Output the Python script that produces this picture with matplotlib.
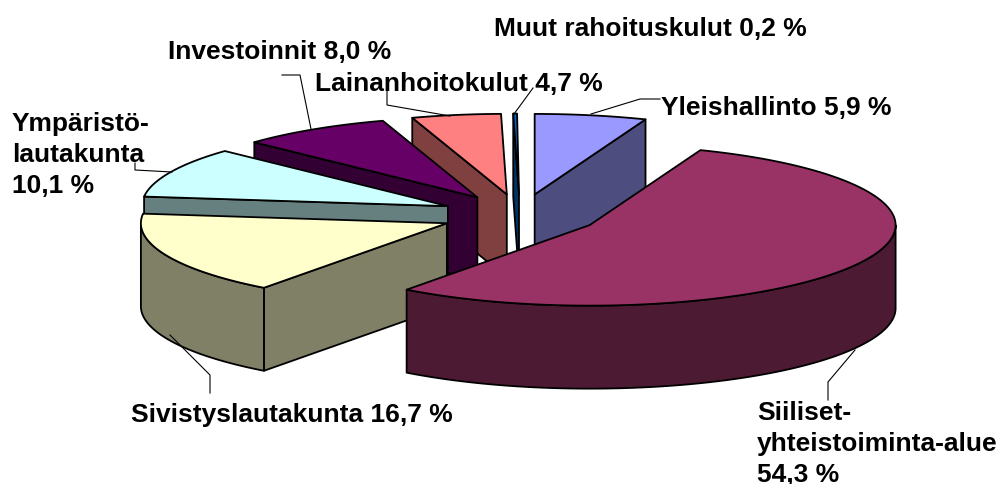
import numpy as np
import matplotlib
matplotlib.use('Agg')
import matplotlib.pyplot as plt
from matplotlib.patches import Polygon

# Data, clockwise from 12 o'clock
names = ['Yleishallinto', 'Siiliset', 'Sivistyslautakunta', 'Ympäristölautakunta',
         'Investoinnit', 'Lainanhoitokulut', 'Muut rahoituskulut']
values = [5.9, 54.3, 16.7, 10.1, 8.0, 4.7, 0.2]
top_colors = ['#9999FF', '#993366', '#FFFFCC', '#CCFFFF', '#660066', '#FF8080', '#0066CC']
side_colors = ['#4D4D80', '#4D1A33', '#808066', '#668080', '#330033', '#804040', '#003366']
labels = ['Yleishallinto 5,9 %', 'Siiliset-\nyhteistoiminta-alue\n54,3 %', 'Sivistyslautakunta 16,7 %',
          'Ympäristö-\nlautakunta\n10,1 %', 'Investoinnit 8,0 %', 'Lainanhoitokulut 4,7 %',
          'Muut rahoituskulut 0,2 %']
label_pos = [(661, 108), (757, 401), (131, 415), (12, 112), (168, 52), (315, 84), (494, 29)]
leaders = [
    [(591, 114), (640, 99), (660, 99)],
    [(855, 350), (828, 382), (828, 400)],
    [(170, 335), (210, 375), (210, 393)],
    [(172, 172), (135, 170), (135, 163)],
    [(311, 129), (300, 75), (282, 75)],
    [(450, 116), (387, 105), (387, 83)],
    [(514, 114), (533, 88)],
]

# Pie geometry (pixels)
CX, CY = 520, 215
RX, RY = 306, 80.5
DEPTH = 83
EXPLODE = 0.26
# back slices first
draw_order = [6, 0, 5, 4, 3, 2, 1]

fig = plt.figure(figsize=(10.02, 4.84), dpi=100)
ax = fig.add_axes([0, 0, 1, 1])
ax.set_xlim(0, 1002)
ax.set_ylim(484, 0)
ax.axis('off')

edges = np.radians(np.concatenate([[0], np.cumsum(values)]) * 3.6)


def poly(pts, color, z):
    ax.add_patch(Polygon(pts, closed=True, facecolor=color, edgecolor='black',
                         linewidth=1.3, joinstyle='round', zorder=z))


for n, i in enumerate(draw_order):
    a0, a1 = edges[i], edges[i + 1]
    mid = (a0 + a1) / 2
    ox = CX + EXPLODE * RX * np.sin(mid)
    oy = CY - EXPLODE * RY * np.cos(mid)
    apex = np.array([ox, oy])
    down = np.array([0, DEPTH])
    t = np.linspace(a0, a1, 120)
    arc = np.column_stack([ox + RX * np.sin(t), oy - RY * np.cos(t)])
    z = 2 + n
    # only walls facing the viewer
    if np.sin(a0) < 0:
        poly([apex, arc[0], arc[0] + down, apex + down], side_colors[i], z)
    if np.sin(a1) > 0:
        poly([apex, arc[-1], arc[-1] + down, apex + down], side_colors[i], z)
    # front part of the rim
    r0, r1 = max(a0, np.pi / 2), min(a1, 3 * np.pi / 2)
    if r1 > r0:
        tr = np.linspace(r0, r1, 120)
        rim = np.column_stack([ox + RX * np.sin(tr), oy - RY * np.cos(tr)])
        poly(np.vstack([rim, (rim + down)[::-1]]), side_colors[i], z + 0.1)
    poly(np.vstack([apex, arc]), top_colors[i], z + 0.2)

for pts in leaders:
    xs, ys = zip(*pts)
    ax.plot(xs, ys, color='black', linewidth=0.8, zorder=20)

for lab, (x, y) in zip(labels, label_pos):
    ax.text(x, y, lab, family='Liberation Sans', fontweight='bold', fontsize=19,
            ha='left', va='center' if '\n' not in lab else 'top', color='black',
            linespacing=1.36, zorder=21)

fig.savefig('out.png', dpi=100)
